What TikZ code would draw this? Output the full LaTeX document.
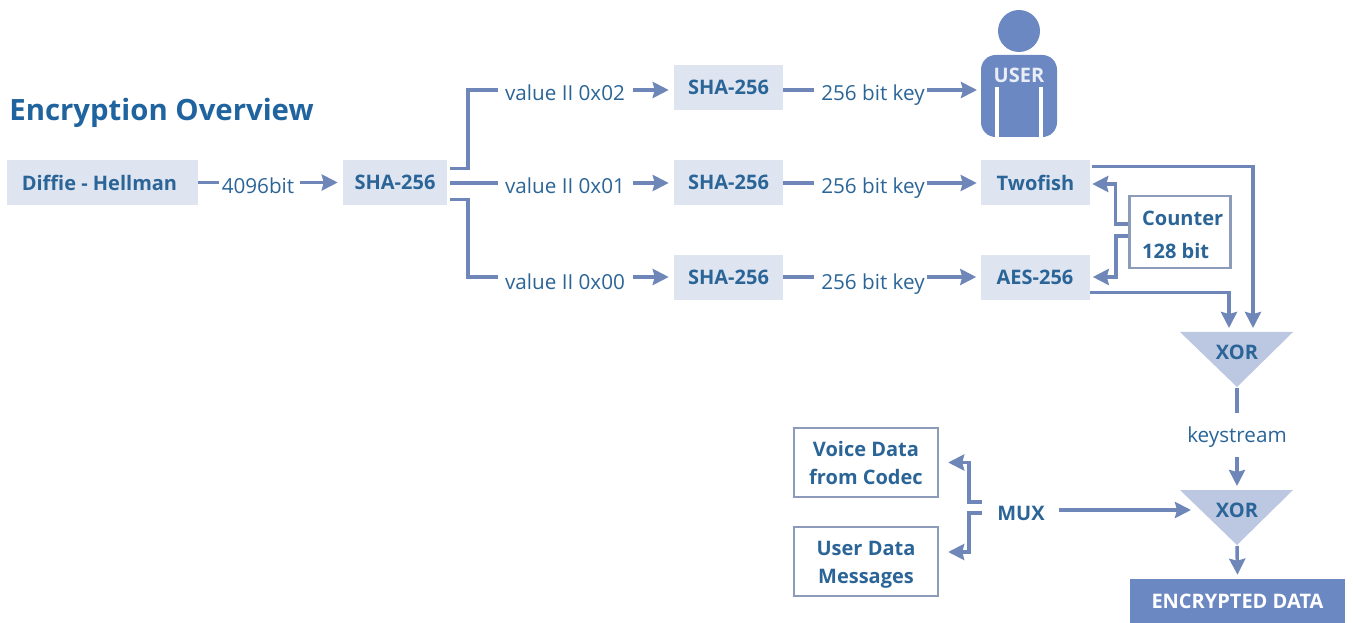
\documentclass[tikz,border=0pt]{standalone}
\usepackage{fontspec}
\setmainfont{Open Sans}
\usetikzlibrary{arrows.meta,calc}
\definecolor{txtb}{HTML}{2B6597}
\definecolor{ttl}{HTML}{20649F}
\definecolor{boxf}{HTML}{DEE5F1}
\definecolor{lnc}{HTML}{6E86B8}
\definecolor{frm}{HTML}{8C9BBA}
\definecolor{tri}{HTML}{BCC7E1}
\definecolor{usr}{HTML}{6C88C2}
\tikzset{
 x=.75pt,y=-.75pt,
 fbox/.style={fill=boxf,text=txtb,font=\fontsize{15pt}{18pt}\selectfont\bfseries,minimum width=81.75pt,minimum height=33.75pt,inner sep=0pt,anchor=center},
 wbox/.style={draw=frm,line width=1.8pt,fill=white,text=txtb,font=\fontsize{15pt}{21pt}\selectfont\bfseries,align=center,inner sep=0pt,anchor=center},
 lab/.style={text=txtb,font=\fontsize{15.5pt}{18pt}\selectfont,inner sep=1.5pt,text height=11pt,text depth=3pt,anchor=center},
 ln/.style={draw=lnc,line width=2.6pt},
 ar/.style={ln,-{Stealth[length=12pt,width=12pt,inset=1.5pt]}},
 trig/.style={fill=tri,draw=none},
 xorl/.style={text=txtb,font=\fontsize{15pt}{18pt}\selectfont\bfseries,inner sep=0pt},
}
\begin{document}
\begin{tikzpicture}
\useasboundingbox (0,0) rectangle (1353,623);
\node[text=ttl,font=\fontsize{22pt}{26pt}\selectfont\bfseries,inner sep=0pt] (title) at (161.5,113) {Encryption Overview};
% boxes
\node[fbox,minimum width=143.25pt] (dh) at (102.5,182.5) {\hspace*{-4.5pt}Diffie - Hellman};
\node[fbox,minimum width=78pt] (sha) at (395,182.5) {SHA-256};
\node[fbox] (sa) at (728.5,87.5) {\raisebox{-1.5pt}{SHA-256}};
\node[fbox] (sb) at (728.5,182.5) {SHA-256};
\node[fbox] (sc) at (728.5,277.5) {\raisebox{-1pt}{SHA-256}};
\node[fbox] (two) at (1035.5,182.5) {Twofish};
\node[fbox] (aes) at (1035,277.5) {\raisebox{-2pt}{AES-256}};
\node[wbox,minimum width=75.75pt,minimum height=54pt,align=left,font=\fontsize{15pt}{25pt}\selectfont\bfseries] (cnt) at (1180,232) {\rule{0pt}{15pt}\hspace*{4pt}Counter\\\hspace*{4pt}128 bit};
\node[wbox,minimum width=108pt,minimum height=52pt] (voice) at (866,462.5) {Voice Data\\from Codec};
\node[wbox,minimum width=108pt,minimum height=52pt] (udata) at (866,561.5) {\rule{0pt}{15pt}User Data\\Messages};
\node[fill=usr,text=white,font=\fontsize{15pt}{18pt}\selectfont\bfseries,minimum width=161.25pt,minimum height=33pt,inner sep=0pt] (enc) at (1237.5,601) {ENCRYPTED DATA};
% labels
\node[lab] (l4) at (258,188) {4096bit};
\node[lab] (va) at (565,95) {value II 0x02};
\node[lab] (vb) at (565,188) {value II 0x01};
\node[lab] (vc) at (565,284) {value II 0x00};
\node[lab] (ka) at (873,95) {256 bit key};
\node[lab] (kb) at (873,188) {256 bit key};
\node[lab] (kc) at (873,284) {256 bit key};
\node[lab] (ks) at (1237,437) {keystream};
\node[xorl] (mux) at (1021,513) {MUX};
% user
\fill[usr] (1019,31) circle[radius=21];
\fill[usr,rounded corners=11pt] (981,55) rectangle (1057,137);
\draw[white,line width=2.6pt] (997,87) -- (997,137) (1041,87) -- (1041,137);
\node[inner sep=0pt,text=white!85!usr,font=\fontsize{15pt}{18pt}\selectfont\bfseries] (user) at (1019,75) {USER};
\coordinate (uw) at (981,90);
% triangles
\fill[trig] (1180,332) -- (1293,332) -- (1237,387) -- cycle;
\fill[trig] (1180,490) -- (1293,490) -- (1237,545) -- cycle;
\coordinate (xa) at (1237,332);
\coordinate (xaa) at (1237,387);
\coordinate (xb) at (1237,490);
\coordinate (xbb) at (1237,545);
\node[xorl] (xorA) at (1237,352) {XOR};
\node[xorl] (xorB) at (1237,510) {XOR};
% connectors, first stage
\draw[ln] (dh.east) -- ($(dh.east -| l4.west)+(-1,0)$);
\draw[ar] ($(dh.east -| l4.east)+(4,0)$) -- ($(sha.west)+(-5,0)$);
\draw[ln] ($(sha.east)+(3,-14)$) -| ($(va.west)+(-35,-5)$) -- ($(va.west)+(-5,-5)$);
\draw[ln] ($(sha.east)+(3,0.5)$) -- ($(sha.east -| vb.west)+(-5,0.5)$);
\draw[ln] ($(sha.east)+(3,17)$) -| ($(vc.west)+(-35,-7)$) -- ($(vc.west)+(-5,-7)$);
\foreach \v/\s/\k/\d in {va/sa/ka/-5,vb/sb/kb/-5,vc/sc/kc/-7}{
 \draw[ar] ($(\v.east)+(6,\d)$) -- ($(\s.west |- \v.east)+(-5,\d)$);
 \draw[ln] ($(\s.east |- \v.east)+(0,\d)$) -- ($(\k.west)+(-5,\d)$);
}
\draw[ar] ($(ka.east)+(0,-5)$) -- ($(uw)+(-4,0)$);
\draw[ar] ($(kb.east)+(0,-5)$) -- ($(two.west |- kb.east)+(-4,-5)$);
\draw[ar] ($(kc.east)+(0,-7)$) -- ($(aes.west |- kc.east)+(-4,-7)$);
% counter
\draw[ar] ($(cnt.west)+(0,-8)$) -| ($(two.east)+(25,1.5)$) -- ($(two.east)+(2,1.5)$);
\draw[ar] ($(cnt.west)+(0,4)$) -| ($(aes.east)+(26,-0.5)$) -- ($(aes.east)+(3,-0.5)$);
% to XOR
\draw[ar] ($(two.north east)+(2,7)$) -| ($(xa)+(16,-4)$);
\draw[ar] ($(aes.south east)+(0,-8)$) -| ($(xa)+(-8,-4)$);
\draw[ln] ($(xaa)+(0,1)$) -- ($(ks.north)+(0,-12)$);
\draw[ar] ($(ks.south)+(0,8)$) -- ($(xb)+(0,-4)$);
\draw[ar] ($(xbb)+(0,1)$) -- ($(enc.north)+(0,-4)$);
% MUX
\draw[ar] ($(mux.west)+(-15,-11)$) -- ++(-13,0) |- ($(voice.east)+(9,0)$);
\draw[ar] ($(mux.west)+(-15,0)$) -- ++(-13,0) |- ($(udata.east)+(9,-9.5)$);
\draw[ar] ($(mux.east)+(14,-3)$) -- ($(xb)+(-46,20)$);
\end{tikzpicture}
\end{document}
